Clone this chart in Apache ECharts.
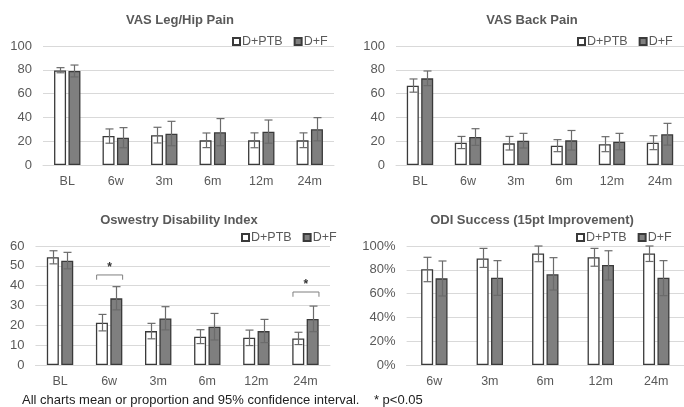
<!DOCTYPE html>
<html>
<head>
<meta charset="utf-8">
<script src="https://cdn.jsdelivr.net/npm/echarts@6/dist/echarts.min.js"></script>
<style>
  html, body { margin: 0; padding: 0; background: #fff; }
  #chart { width: 684px; height: 407px; }
</style>
</head>
<body>
<div id="chart"></div>
<script>
// Time points
const timepoints = ['BL', '6w', '3m', '6m', '12m', '24m'];
const successTimepoints = ['6w', '3m', '6m', '12m', '24m'];
const groupNames = ['D+PTB', 'D+F'];

// VAS leg/hip pain: mean with 95% CI
const legPtbMean = [79.5, 24.4, 25.0, 20.7, 20.7, 20.7];
const legPtbLow  = [77.5, 18.3, 18.5, 14.6, 14.5, 14.6];
const legPtbHigh = [81.8, 30.3, 31.7, 26.9, 27.0, 27.0];
const legFMean   = [79.0, 23.0, 26.3, 27.5, 28.0, 30.0];
const legFLow    = [74.0, 14.5, 16.2, 16.2, 18.3, 20.3];
const legFHigh   = [84.0, 31.4, 36.7, 39.0, 37.8, 39.8];

// VAS back pain: mean with 95% CI
const backPtbMean = [66.7, 18.8, 18.2, 16.2, 17.4, 18.8];
const backPtbLow  = [61.2, 13.8, 12.6, 11.2, 11.2, 12.9];
const backPtbHigh = [72.3, 24.0, 24.0, 21.3, 23.8, 24.6];
const backFMean   = [72.8, 23.5, 20.4, 20.7, 19.6, 25.8];
const backFLow    = [66.7, 16.5, 14.3, 12.6, 12.8, 16.7];
const backFHigh   = [79.0, 30.5, 26.6, 29.0, 26.6, 35.0];

// Oswestry Disability Index: mean with 95% CI
const odiPtbMean = [54.3, 21.3, 17.1, 14.3, 13.8, 13.4];
const odiPtbLow  = [51.0, 17.2, 13.2, 10.8, 9.8, 10.3];
const odiPtbHigh = [57.6, 25.5, 21.0, 17.8, 17.6, 16.5];
const odiFMean   = [52.6, 33.6, 23.5, 19.3, 17.1, 23.2];
const odiFLow    = [48.5, 27.8, 17.7, 12.6, 11.3, 16.8];
const odiFHigh   = [56.8, 39.5, 29.4, 26.0, 23.0, 29.7];

// ODI success (15 point improvement): proportion (%) with 95% CI
const succPtbMean = [80.4, 89.6, 93.8, 90.5, 93.8];
const succPtbLow  = [70.0, 82.0, 86.8, 83.0, 87.0];
const succPtbHigh = [90.5, 98.0, 100, 98.0, 100];
const succFMean   = [72.8, 73.4, 76.2, 84.0, 73.4];
const succFLow    = [58.0, 58.5, 63.0, 71.4, 58.3];
const succFHigh   = [87.4, 87.7, 90.2, 96.0, 87.7];

// Significant differences on the ODI panel (category, bracket level, tick level)
const sigCategories = ['6w', '24m'];
const sigBracketTop = [45.4, 36.8];
const sigBracketFoot = [43.0, 34.4];

const panelTitles = ['VAS Leg/Hip Pain', 'VAS Back Pain', 'Oswestry Disability Index', 'ODI Success (15pt Improvement)'];
const footnote = 'All charts mean or proportion and 95% confidence interval.    * p<0.05';

const FONT = '"Liberation Sans", Arial, sans-serif';
const TEXT = '#595959';
const GRID_LINE = '#d9d9d9';
const BAR_W = 12;
const BAR_OFF = 7.2;

const panels = [
  { cats: timepoints, max: 100, step: 20, pct: false,
    a: [legPtbMean, legPtbLow, legPtbHigh], b: [legFMean, legFLow, legFHigh],
    grid: { left: 43, top: 46, width: 291, height: 119 },
    title: { x: 175, y: 9 }, legend: { x: 227, y: 30 } },
  { cats: timepoints, max: 100, step: 20, pct: false,
    a: [backPtbMean, backPtbLow, backPtbHigh], b: [backFMean, backFLow, backFHigh],
    grid: { left: 396, top: 46, width: 289, height: 119 },
    title: { x: 527, y: 9 }, legend: { x: 572, y: 30 } },
  { cats: timepoints, max: 60, step: 10, pct: false,
    a: [odiPtbMean, odiPtbLow, odiPtbHigh], b: [odiFMean, odiFLow, odiFHigh],
    grid: { left: 35.5, top: 246, width: 294.5, height: 119 },
    title: { x: 174, y: 208.5 }, legend: { x: 236, y: 226 } },
  { cats: successTimepoints, max: 100, step: 20, pct: true,
    a: [succPtbMean, succPtbLow, succPtbHigh], b: [succFMean, succFLow, succFHigh],
    grid: { left: 406.6, top: 246, width: 277.5, height: 119 },
    title: { x: 527, y: 208.5 }, legend: { x: 571, y: 226 } }
];

function errorRenderer(offset) {
  return function (params, api) {
    const i = api.value(0);
    const lo = api.coord([i, api.value(1)]);
    const hi = api.coord([i, api.value(2)]);
    const x = Math.round(lo[0] + offset) + 0.5;
    const half = 4;
    const style = { stroke: '#6b6b6b', lineWidth: 1.2, fill: null };
    return {
      type: 'group',
      children: [
        { type: 'line', shape: { x1: x, y1: lo[1], x2: x, y2: hi[1] }, style },
        { type: 'line', shape: { x1: x - half, y1: hi[1], x2: x + half, y2: hi[1] }, style },
        { type: 'line', shape: { x1: x - half, y1: lo[1], x2: x + half, y2: lo[1] }, style }
      ]
    };
  };
}

function bracketRenderer(params, api) {
  const i = api.value(0);
  const top = api.coord([i, api.value(1)]);
  const foot = api.coord([i, api.value(2)]);
  const x1 = top[0] - 12.5, x2 = top[0] + 13.5;
  const style = { stroke: '#7f7f7f', lineWidth: 1, fill: null };
  return {
    type: 'group',
    children: [
      { type: 'polyline', shape: { points: [[x1, foot[1]], [x1, top[1]], [x2, top[1]], [x2, foot[1]]] }, style },
      { type: 'text', x: (x1 + x2) / 2, y: top[1] - 1,
        style: { text: '*', fill: '#333', font: 'bold 12px ' + FONT, align: 'center', verticalAlign: 'bottom' } }
    ]
  };
}

const grids = [], xAxes = [], yAxes = [], series = [], legends = [], titles = [];

panels.forEach((p, k) => {
  grids.push(Object.assign({ containLabel: false }, p.grid));
  xAxes.push({
    type: 'category', gridIndex: k, data: p.cats,
    axisLine: { lineStyle: { color: GRID_LINE, width: 1 } },
    axisTick: { show: false },
    axisLabel: { color: TEXT, fontSize: 12.5, fontFamily: FONT, margin: 10 }
  });
  yAxes.push({
    type: 'value', gridIndex: k, min: 0, max: p.max, interval: p.step,
    axisLine: { show: false }, axisTick: { show: false },
    splitLine: { lineStyle: { color: GRID_LINE, width: 1 } },
    axisLabel: { color: TEXT, fontSize: 13, fontFamily: FONT, margin: 11,
      formatter: p.pct ? '{value}%' : '{value}' }
  });
  series.push({
    name: groupNames[0], type: 'bar', xAxisIndex: k, yAxisIndex: k,
    data: p.a[0], barWidth: BAR_W, barGap: '20%',
    itemStyle: { color: '#ffffff', borderColor: '#3a3a3a', borderWidth: 1.3 }
  });
  series.push({
    name: groupNames[1], type: 'bar', xAxisIndex: k, yAxisIndex: k,
    data: p.b[0], barWidth: BAR_W, barGap: '20%',
    itemStyle: { color: '#7f7f7f', borderColor: '#3a3a3a', borderWidth: 1.3 }
  });
  series.push({
    type: 'custom', xAxisIndex: k, yAxisIndex: k, z: 5, silent: true,
    renderItem: errorRenderer(-BAR_OFF),
    encode: { x: 0, y: [1, 2] },
    data: p.cats.map((c, i) => [i, p.a[1][i], p.a[2][i]])
  });
  series.push({
    type: 'custom', xAxisIndex: k, yAxisIndex: k, z: 5, silent: true,
    renderItem: errorRenderer(BAR_OFF),
    encode: { x: 0, y: [1, 2] },
    data: p.cats.map((c, i) => [i, p.b[1][i], p.b[2][i]])
  });
  legends.push({
    left: p.legend.x, top: p.legend.y, data: groupNames,
    itemWidth: 7, itemHeight: 7, itemGap: 11, icon: 'rect',
    selectedMode: false,
    textStyle: { color: TEXT, fontSize: 12.5, fontFamily: FONT, padding: [0, 0, 0, -3] }
  });
  titles.push({
    text: panelTitles[k], left: p.title.x, top: p.title.y, textAlign: 'center',
    textStyle: { color: TEXT, fontSize: 13, fontWeight: 'bold', fontFamily: FONT }
  });
});

// significance brackets on the ODI panel
series.push({
  type: 'custom', xAxisIndex: 2, yAxisIndex: 2, z: 6, silent: true,
  renderItem: bracketRenderer,
  encode: { x: 0, y: [1, 2] },
  data: sigCategories.map((c, i) => [timepoints.indexOf(c), sigBracketTop[i], sigBracketFoot[i]])
});

titles.push({
  text: footnote, left: 17, top: 389,
  textStyle: { color: '#222', fontSize: 13, fontWeight: 'normal', fontFamily: FONT }
});

const chart = echarts.init(document.getElementById('chart'), null, { renderer: 'canvas' });
chart.setOption({
  animation: false,
  backgroundColor: '#ffffff',
  title: titles,
  legend: legends,
  grid: grids,
  xAxis: xAxes,
  yAxis: yAxes,
  series: series
});
</script>
</body>
</html>
